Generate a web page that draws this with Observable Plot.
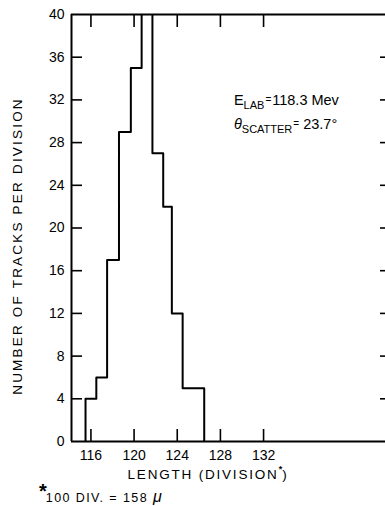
<!DOCTYPE html>
<html>
<head>
<meta charset="utf-8">
<script src="https://cdn.jsdelivr.net/npm/d3@7"></script>
<script src="https://cdn.jsdelivr.net/npm/@observablehq/plot@0.6"></script>
<style>
  html, body { margin: 0; padding: 0; background: #fff; overflow: hidden; }
  svg { display: block; }
</style>
</head>
<body>
<div id="chart"></div>
<script>
// Histogram bin edges (length in divisions) and counts (tracks per division)
const binEdges = [115.5, 116.5, 117.5, 118.6, 119.7, 120.7, 121.7, 122.7, 123.5, 124.5, 126.5];
const binCounts = [4, 6, 17, 29, 35, 44, 27, 22, 12, 5];
const xTicks = [116, 120, 124, 128, 132];
const yTicks = [0, 4, 8, 12, 16, 20, 24, 28, 32, 36, 40];
const yInnerTicks = [4, 8, 12, 16, 20, 24, 28, 32, 36];
const xDomain = [114.2, 143.3];
const yDomain = [0, 40];

const points = [{x: binEdges[0], y: 0}]
  .concat(binCounts.map((c, i) => ({x: binEdges[i], y: c})))
  .concat([{x: binEdges[binEdges.length - 1], y: 0}]);

const font = "'Liberation Sans', Arial, sans-serif";

const chart = Plot.plot({
  width: 385,
  height: 506,
  marginLeft: 71,
  marginRight: 0,
  marginTop: 14,
  marginBottom: 65,
  style: {fontFamily: font, fontSize: "13px", color: "#000", background: "#fff"},
  x: {type: "linear", domain: xDomain},
  y: {type: "linear", domain: yDomain},
  marks: [
    Plot.ruleY([yDomain[0]], {stroke: "#000", strokeWidth: 2}),
    Plot.ruleY([yDomain[1]], {stroke: "#000", strokeWidth: 2}),
    Plot.ruleX([xDomain[0]], {stroke: "#000", strokeWidth: 2}),
    Plot.axisY({anchor: "left", ticks: yTicks, tickSize: 0, tickPadding: 7, label: null, fontSize: 14}),
    Plot.axisY({anchor: "left", ticks: yInnerTicks, tickSize: -11, tickFormat: () => "", label: null, strokeWidth: 1.6}),
    Plot.axisY({anchor: "right", ticks: yInnerTicks, tickSize: -6, tickFormat: () => "", label: null, strokeWidth: 1.6}),
    Plot.axisX({anchor: "bottom", ticks: xTicks, tickSize: 0, tickPadding: 9, label: null, fontSize: 14}),
    Plot.axisX({anchor: "bottom", ticks: xTicks, tickSize: -12, tickFormat: () => "", label: null, strokeWidth: 1.6}),
    Plot.axisX({anchor: "top", ticks: xTicks, tickSize: -12, tickFormat: () => "", label: null, strokeWidth: 1.6}),
    Plot.line(points, {x: "x", y: "y", curve: "step-after", stroke: "#000", strokeWidth: 2, clip: true})
  ]
});

document.getElementById("chart").appendChild(chart);

const svg = d3.select(chart);
const sx = chart.scale("x");

// Y axis title
svg.append("text")
  .attr("transform", "translate(22,246) rotate(-90)")
  .attr("text-anchor", "middle")
  .attr("font-family", font)
  .attr("font-size", 13.5)
  .attr("letter-spacing", 2.2)
  .text("NUMBER OF TRACKS PER DIVISION");

// X axis title
const xt = svg.append("text")
  .attr("x", 208).attr("y", 479)
  .attr("text-anchor", "middle")
  .attr("font-family", font)
  .attr("font-size", 13.5)
  .attr("letter-spacing", 1.8);
xt.append("tspan").text("LENGTH (DIVISION");
xt.append("tspan").attr("dy", -7).attr("font-size", 9).attr("font-weight", "bold").attr("letter-spacing", 0).text("*");
xt.append("tspan").attr("dy", 7).text(")");

// Annotation
const a1 = svg.append("text").attr("x", sx.apply(129.3)).attr("y", 105)
  .attr("text-anchor", "start")
  .attr("font-family", font).attr("font-size", 14.5);
a1.append("tspan").text("E");
a1.append("tspan").attr("dy", 4).attr("font-size", 11).text("LAB");
a1.append("tspan").attr("dy", -6).attr("font-size", 10).attr("dx", 1).text("=");
a1.append("tspan").attr("dy", 2).attr("dx", 1).text("118.3 Mev");

const a2 = svg.append("text").attr("x", sx.apply(129.3)).attr("y", 129)
  .attr("text-anchor", "start")
  .attr("font-family", font).attr("font-size", 14.5);
a2.append("tspan").attr("font-style", "italic").text("θ");
a2.append("tspan").attr("dy", 4).attr("font-size", 11).text("SCATTER");
a2.append("tspan").attr("dy", -6).attr("font-size", 10).attr("dx", 1).text("=");
a2.append("tspan").attr("dy", 2).attr("dx", 4).text("23.7°");

// Footnote
const fn = svg.append("text").attr("x", 39).attr("y", 502)
  .attr("text-anchor", "start")
  .attr("font-family", font).attr("font-size", 12.5).attr("letter-spacing", 1.4);
fn.append("tspan").attr("dy", -4).attr("font-size", 20).attr("font-weight", "bold").attr("letter-spacing", 0).text("*");
fn.append("tspan").attr("dy", 4).attr("dx", -1).text("100 DIV. = 158 ");
fn.append("tspan").attr("font-style", "italic").attr("font-size", 16).text("μ");
</script>
</body>
</html>
